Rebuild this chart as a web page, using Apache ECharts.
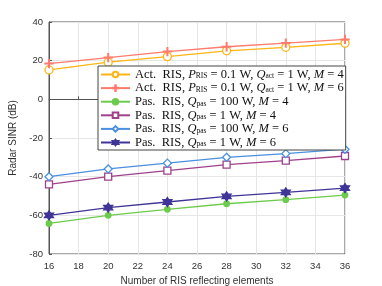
<!DOCTYPE html>
<html><head><meta charset="utf-8">
<script src="https://cdn.jsdelivr.net/npm/echarts@6/dist/echarts.min.js"></script>
<style>html,body{margin:0;padding:0;background:#fff}#c{width:382px;height:286px}</style>
</head><body><div id="c"></div>
<script>
const xValues = [16, 20, 24, 28, 32, 36];
const actM4 = [15.2, 19.2, 22.1, 25.1, 26.9, 29.0];
const actM6 = [18.5, 21.6, 24.7, 27.2, 29.1, 31.0];
const pasQ100M4 = [-64.2, -60.0, -56.9, -54.0, -51.9, -49.5];
const pasQ1M4 = [-44.0, -40.0, -36.9, -33.8, -31.7, -29.3];
const pasQ100M6 = [-40.0, -36.0, -33.0, -30.0, -28.1, -25.8];
const pasQ1M6 = [-60.0, -56.0, -53.1, -50.2, -48.1, -45.9];
const xTicks = [16, 18, 20, 22, 24, 26, 28, 30, 32, 34, 36];
const yTicks = [-80, -60, -40, -20, 0, 20, 40];
const seriesNames = ['actM4', 'actM6', 'pasQ100M4', 'pasQ1M4', 'pasQ100M6', 'pasQ1M6'];
const legendLabels = {
  actM4: 'Act.  RIS, {i|P}{s|RIS} = 0.1 W, {i|Q}{s|act} = 1 W, {i|M} = 4',
  actM6: 'Act.  RIS, {i|P}{s|RIS} = 0.1 W, {i|Q}{s|act} = 1 W, {i|M} = 6',
  pasQ100M4: 'Pas.  RIS, {i|Q}{s|pas} = 100 W, {i|M} = 4',
  pasQ1M4: 'Pas.  RIS, {i|Q}{s|pas} = 1 W, {i|M} = 4',
  pasQ100M6: 'Pas.  RIS, {i|Q}{s|pas} = 100 W, {i|M} = 6',
  pasQ1M6: 'Pas.  RIS, {i|Q}{s|pas} = 1 W, {i|M} = 6'
};
const plusPath = 'path://M-0.09,-1 L0.09,-1 L0.09,-0.09 L1,-0.09 L1,0.09 L0.09,0.09 L0.09,1 L-0.09,1 L-0.09,0.09 L-1,0.09 L-1,-0.09 L-0.09,-0.09 Z';
const starPath = 'path://M0,-1 L0.289,-0.5 L0.866,-0.5 L0.577,0 L0.866,0.5 L0.289,0.5 L0,1 L-0.289,0.5 L-0.866,0.5 L-0.577,0 L-0.866,-0.5 L-0.289,-0.5 Z';

function mk(name, data, color, symbol, size, filled) {
  return {
    name: name, type: 'line',
    data: xValues.map((x, i) => [x, data[i]]),
    symbol: symbol, symbolSize: size,
    lineStyle: { color: color, width: 1.3 },
    itemStyle: { color: filled ? color : '#fff', borderColor: color, borderWidth: 1.3 },
    emphasis: { disabled: true },
    z: 3
  };
}

const chart = echarts.init(document.getElementById('c'));
const axisFont = { color: '#333', fontSize: 9.5, fontFamily: 'Liberation Sans, Arial, sans-serif' };
chart.setOption({
  animation: false,
  grid: { left: 49, right: 37, top: 22, bottom: 32, outerBoundsMode: 'none', containLabel: false, show: true, borderColor: '#555', borderWidth: 1, backgroundColor: '#fff' },
  xAxis: {
    type: 'value', min: 16, max: 36, interval: 2,
    axisLine: { show: true, lineStyle: { color: '#555', width: 1 } },
    axisTick: { inside: true, length: 3, lineStyle: { color: '#555' } },
    axisLabel: Object.assign({ margin: 7, formatter: v => xTicks.includes(v) ? String(v) : '' }, axisFont),
    splitLine: { show: true, lineStyle: { color: '#e6e6e6', width: 1 } },
    name: 'Number of RIS reflecting elements', nameLocation: 'middle', nameGap: 21,
    nameTextStyle: { color: '#333', fontSize: 10, fontFamily: 'Liberation Sans, Arial, sans-serif' }
  },
  yAxis: {
    type: 'value', min: -80, max: 40, interval: 20,
    axisLine: { show: true, lineStyle: { color: '#555', width: 1 } },
    axisTick: { inside: true, length: 3, lineStyle: { color: '#555' } },
    axisLabel: Object.assign({ margin: 6, formatter: v => yTicks.includes(v) ? String(v) : '' }, axisFont),
    splitLine: { show: true, lineStyle: { color: '#e6e6e6', width: 1 } },
    name: 'Radar SINR (dB)', nameLocation: 'middle', nameGap: 27, nameRotate: 90,
    nameTextStyle: { color: '#333', fontSize: 10, fontFamily: 'Liberation Sans, Arial, sans-serif' }
  },
  legend: {
    show: true, orient: 'vertical', left: 98, top: 66,
    data: seriesNames,
    itemWidth: 29, itemHeight: 7, itemGap: 0.6,
    padding: [2, 2, 1, 2],
    backgroundColor: '#fff', borderColor: '#444', borderWidth: 1,
    formatter: n => legendLabels[n],
    textStyle: {
      fontFamily: 'Liberation Serif, DejaVu Serif, serif', fontSize: 12.5, color: '#111', lineHeight: 12,
      rich: {
        i: { fontStyle: 'italic', fontFamily: 'Liberation Serif, serif', fontSize: 12.5, color: '#111', lineHeight: 12 },
        s: { fontFamily: 'Liberation Serif, serif', fontSize: 7.5, color: '#111', lineHeight: 7, verticalAlign: 'bottom' }
      }
    }
  },
  series: [
    mk('actM4', actM4, '#FDB515', 'circle', 8, false),
    mk('actM6', actM6, '#FF7B6E', plusPath, 8, true),
    mk('pasQ100M4', pasQ100M4, '#6CCB4C', 'circle', 5.5, true),
    mk('pasQ1M4', pasQ1M4, '#A0418A', 'rect', 7, false),
    mk('pasQ100M6', pasQ100M6, '#4A8FE0', 'diamond', 8, false),
    mk('pasQ1M6', pasQ1M6, '#3F3497', starPath, 9, true)
  ]
});
</script></body></html>
